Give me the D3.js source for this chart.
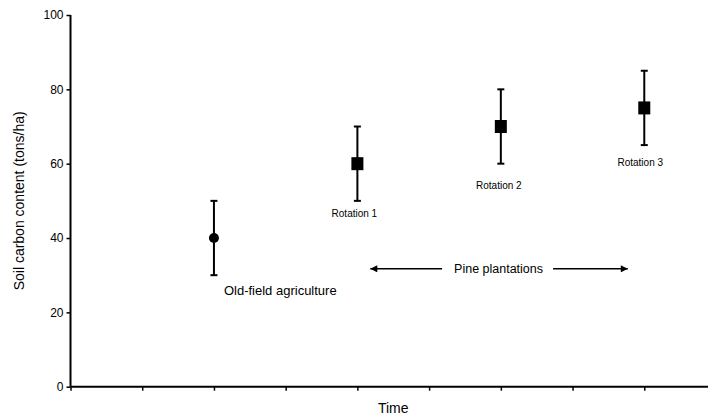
<!DOCTYPE html>
<html lang="en">
<head>
<meta charset="UTF-8" />
<title>Soil carbon content over time</title>
<script src="https://cdn.jsdelivr.net/npm/d3@7"></script>
<style>
  html, body { margin: 0; padding: 0; background: #fff; }
  svg { display: block; font-family: "Liberation Sans", Arial, sans-serif; }
</style>
</head>
<body>
<div id="app"></div>
<script>
// DATA
const stages = ["Old-field agriculture", "Rotation 1", "Rotation 2", "Rotation 3"];
const timeSlots = [2, 4, 6, 8];
const carbon = [40, 60, 70, 75];
const carbonErr = [10, 10, 10, 10];
const markers = ["circle", "square", "square", "square"];
const yTicks = [0, 20, 40, 60, 80, 100];
const xTicks = [0, 1, 2, 3, 4, 5, 6, 7, 8];
const spanLabel = "Pine plantations";

// SVG
const w = 708;
const h = 415;

const svg = d3.select("#app")
  .append("svg")
  .attr("width", w)
  .attr("height", h);

// Escalas
const xScale = d3.scaleLinear().domain([0, 9]).range([70.5, 716]);
const yScale = d3.scaleLinear().domain([0, 100]).range([386.7, 15]);

// AXIS
const yAxis = d3.axisLeft(yScale)
  .tickValues(yTicks)
  .tickSize(4)
  .tickPadding(3)
  .tickFormat(d3.format("d"));

const xAxis = d3.axisBottom(xScale)
  .tickValues(xTicks)
  .tickSize(4)
  .tickSizeOuter(0)
  .tickFormat("");

const gx = svg.append("g")
  .attr("transform", "translate(0," + yScale(0) + ")")
  .call(xAxis);

const gy = svg.append("g")
  .attr("transform", "translate(" + xScale(0) + ",0)")
  .call(yAxis);

[gx, gy].forEach(g => {
  g.select(".domain").attr("stroke", "#000").attr("stroke-width", 2);
  g.selectAll(".tick line").attr("stroke", "#000").attr("stroke-width", 1.5);
});
gy.select(".domain").attr("d", "M0," + yScale(100) + "V" + yScale(0));
gx.select(".domain").attr("d", "M" + xScale(0) + ",0H" + w);
gy.selectAll(".tick text")
  .attr("fill", "#000")
  .style("font-size", "12px")
  .style("font-family", "Liberation Sans, Arial, sans-serif");

// axis titles
svg.append("text")
  .attr("transform", "translate(24," + yScale(50) + ") rotate(-90)")
  .attr("text-anchor", "middle")
  .style("font-size", "14px")
  .text("Soil carbon content (tons/ha)");

svg.append("text")
  .attr("x", (xScale(0) + xScale(9)) / 2)
  .attr("y", 413)
  .attr("text-anchor", "middle")
  .style("font-size", "14px")
  .text("Time");

// ERROR BARS
const pts = stages.map((s, i) => ({
  label: s, t: timeSlots[i], v: carbon[i], e: carbonErr[i], m: markers[i]
}));

const bars = svg.append("g").selectAll("g")
  .data(pts)
  .enter()
  .append("g");

bars.append("line")
  .attr("x1", d => xScale(d.t)).attr("x2", d => xScale(d.t))
  .attr("y1", d => yScale(d.v + d.e)).attr("y2", d => yScale(d.v - d.e))
  .attr("stroke", "#000").attr("stroke-width", 2);

[1, -1].forEach(sgn => {
  bars.append("line")
    .attr("x1", d => xScale(d.t) - 3.5).attr("x2", d => xScale(d.t) + 3.5)
    .attr("y1", d => yScale(d.v + sgn * d.e)).attr("y2", d => yScale(d.v + sgn * d.e))
    .attr("stroke", "#000").attr("stroke-width", 2);
});

// markers
bars.filter(d => d.m === "circle")
  .append("circle")
  .attr("cx", d => xScale(d.t))
  .attr("cy", d => yScale(d.v))
  .attr("r", 5)
  .attr("fill", "#000");

bars.filter(d => d.m === "square")
  .append("rect")
  .attr("x", d => xScale(d.t) - 6)
  .attr("y", d => yScale(d.v) - 6.5)
  .attr("width", 12)
  .attr("height", 13)
  .attr("fill", "#000");

// ETIQUETAS (offsets from the lower end of each error bar)
const labelOffsets = [
  { dx: 10, dy: 20, anchor: "start", size: 13 },
  { dx: -3, dy: 16.5, anchor: "middle", size: 10 },
  { dx: -2, dy: 25.5, anchor: "middle", size: 10 },
  { dx: -4, dy: 21, anchor: "middle", size: 10 }
];

bars.append("text")
  .attr("x", (d, i) => xScale(d.t) + labelOffsets[i].dx)
  .attr("y", (d, i) => yScale(d.v - d.e) + labelOffsets[i].dy)
  .attr("text-anchor", (d, i) => labelOffsets[i].anchor)
  .style("font-size", (d, i) => labelOffsets[i].size + "px")
  .text(d => d.label);

// Pine plantations arrow
const arrowY = yScale(31.7);
const aLeft = xScale(4.18), aRight = xScale(7.77);
const mid = (aLeft + aRight) / 2;

svg.append("defs").append("marker")
  .attr("id", "ah")
  .attr("viewBox", "0 0 10 10")
  .attr("refX", 10).attr("refY", 5)
  .attr("markerWidth", 8).attr("markerHeight", 7)
  .attr("markerUnits", "userSpaceOnUse")
  .attr("orient", "auto")
  .append("path")
  .attr("d", "M0,0L10,5L0,10z")
  .attr("fill", "#000");

svg.append("line")
  .attr("x1", mid - 57).attr("x2", aLeft)
  .attr("y1", arrowY).attr("y2", arrowY)
  .attr("stroke", "#000").attr("stroke-width", 1.5)
  .attr("marker-end", "url(#ah)");

svg.append("line")
  .attr("x1", mid + 54).attr("x2", aRight)
  .attr("y1", arrowY).attr("y2", arrowY)
  .attr("stroke", "#000").attr("stroke-width", 1.5)
  .attr("marker-end", "url(#ah)");

svg.append("text")
  .attr("x", mid - 0.5)
  .attr("y", arrowY + 4.5)
  .attr("text-anchor", "middle")
  .style("font-size", "12.5px")
  .text(spanLabel);
</script>
</body>
</html>
